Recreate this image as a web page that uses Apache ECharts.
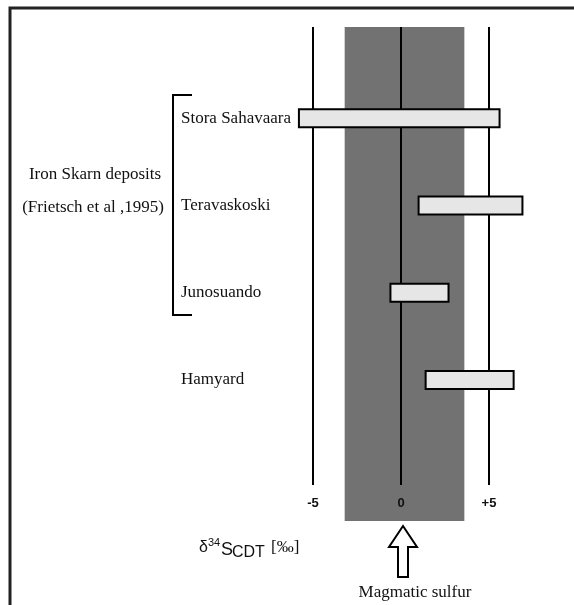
<!DOCTYPE html>
<html>
<head>
<meta charset="utf-8">
<script src="https://cdn.jsdelivr.net/npm/echarts@6/dist/echarts.min.js"></script>
<style>
  html, body { margin: 0; padding: 0; background: #fff; }
  #chart { width: 574px; height: 605px; }
</style>
</head>
<body>
<div id="chart"></div>
<script>
// data (δ34S, per mil)
const deposits = ['Stora Sahavaara', 'Teravaskoski', 'Junosuando', 'Hamyard']
const rangeLow = [-5.8, 1.0, -0.6, 1.4]
const rangeHigh = [5.6, 6.9, 2.7, 6.4]
const magmaticRange = [-3.2, 3.6]
const refValues = [-5, 0, 5]

const serif = 'Liberation Serif'
const xMin = -12.5
const xMax = 9.5

const chart = echarts.init(document.getElementById('chart'))

const xAxisBase = {
  type: 'value', min: xMin, max: xMax,
  axisLine: { show: false }, axisTick: { show: false },
  splitLine: { show: false }, axisLabel: { show: false }
}

chart.setOption({
  animation: false,
  grid: [
    { left: 181, right: 5.8, top: 27, bottom: 84 },   // magmatic band
    { left: 181, right: 5.8, top: 27, bottom: 120 },  // reference lines
    { left: 181, right: 5.8, top: 74.6, bottom: 181.4 } // deposits
  ],
  xAxis: [
    { ...xAxisBase, gridIndex: 0 },
    {
      ...xAxisBase, gridIndex: 1, z: 10,
      axisLabel: {
        show: true, customValues: refValues, margin: 12,
        fontSize: 13, fontWeight: 'bold', color: '#111', fontFamily: 'Liberation Sans',
        formatter: v => (v > 0 ? '+' + v : String(v))
      }
    },
    { ...xAxisBase, gridIndex: 2 }
  ],
  yAxis: [
    { type: 'value', gridIndex: 0, min: 0, max: 1, show: false },
    { type: 'value', gridIndex: 1, min: 0, max: 1, show: false },
    {
      type: 'category', gridIndex: 2, inverse: true, data: deposits,
      axisLine: { show: false }, axisTick: { show: false },
      axisLabel: { align: 'left', margin: 0, fontSize: 17, fontFamily: serif, color: '#111' }
    }
  ],
  series: [
    {
      type: 'custom', xAxisIndex: 0, yAxisIndex: 0, z: -1,
      data: [magmaticRange],
      renderItem: (params, api) => {
        const p1 = api.coord([api.value(0), 1])
        const p2 = api.coord([api.value(1), 0])
        return { type: 'rect', shape: { x: p1[0], y: p1[1], width: p2[0] - p1[0], height: p2[1] - p1[1] },
          style: { fill: '#727272' } }
      }
    },
    {
      type: 'custom', xAxisIndex: 1, yAxisIndex: 1,
      data: refValues.map(v => [v]),
      renderItem: (params, api) => {
        const top = api.coord([api.value(0), 1])
        const bot = api.coord([api.value(0), 0])
        return { type: 'line', shape: { x1: top[0], y1: top[1], x2: bot[0], y2: bot[1] },
          style: { stroke: '#000', lineWidth: 2 } }
      }
    },
    {
      type: 'custom', xAxisIndex: 2, yAxisIndex: 2,
      data: deposits.map((d, i) => [rangeLow[i], rangeHigh[i], i]),
      encode: { x: [0, 1], y: 2 },
      renderItem: (params, api) => {
        const a = api.coord([api.value(0), api.value(2)])
        const b = api.coord([api.value(1), api.value(2)])
        const h = 18
        return { type: 'rect', shape: { x: a[0], y: a[1] - h / 2, width: b[0] - a[0], height: h },
          style: { fill: '#e6e6e6', stroke: '#000', lineWidth: 2 } }
      }
    }
  ],
  graphic: [
    // frame (top and left only)
    { type: 'polyline', shape: { points: [[574, 8], [10, 8], [10, 605]] },
      style: { stroke: '#222', lineWidth: 3, fill: null } },
    // bracket around the iron skarn deposits
    { type: 'polyline', shape: { points: [[192, 95], [173, 95], [173, 315], [192, 315]] },
      style: { stroke: '#000', lineWidth: 2, fill: null } },
    { type: 'text', x: 95, y: 175,
      style: { text: 'Iron Skarn deposits', font: '17px "Liberation Serif"', fill: '#111', align: 'center', verticalAlign: 'middle' } },
    { type: 'text', x: 93, y: 208,
      style: { text: '(Frietsch et al ,1995)', font: '17px "Liberation Serif"', fill: '#111', align: 'center', verticalAlign: 'middle' } },
    // axis title δ34S CDT [‰]
    { type: 'text', x: 199, y: 556,
      style: { text: 'δ', font: '16px "Liberation Sans"', fill: '#111', verticalAlign: 'bottom' } },
    { type: 'text', x: 208, y: 548,
      style: { text: '34', font: '11px "Liberation Sans"', fill: '#111', verticalAlign: 'bottom' } },
    { type: 'text', x: 221, y: 559,
      style: { text: 'S', font: '18px "Liberation Sans"', fill: '#111', verticalAlign: 'bottom' } },
    { type: 'text', x: 232, y: 561,
      style: { text: 'CDT', font: '16px "Liberation Sans"', fill: '#111', verticalAlign: 'bottom' } },
    { type: 'text', x: 271, y: 556,
      style: { text: '[‰]', font: '17px "Liberation Serif"', fill: '#111', verticalAlign: 'bottom' } },
    // hollow arrow
    { type: 'polygon',
      shape: { points: [[403, 526], [417, 547], [408, 547], [408, 577], [398, 577], [398, 547], [389, 547]] },
      style: { fill: '#fff', stroke: '#000', lineWidth: 2 } },
    { type: 'text', x: 415, y: 593,
      style: { text: 'Magmatic sulfur', font: '17px "Liberation Serif"', fill: '#111', align: 'center', verticalAlign: 'middle' } }
  ]
})
</script>
</body>
</html>
